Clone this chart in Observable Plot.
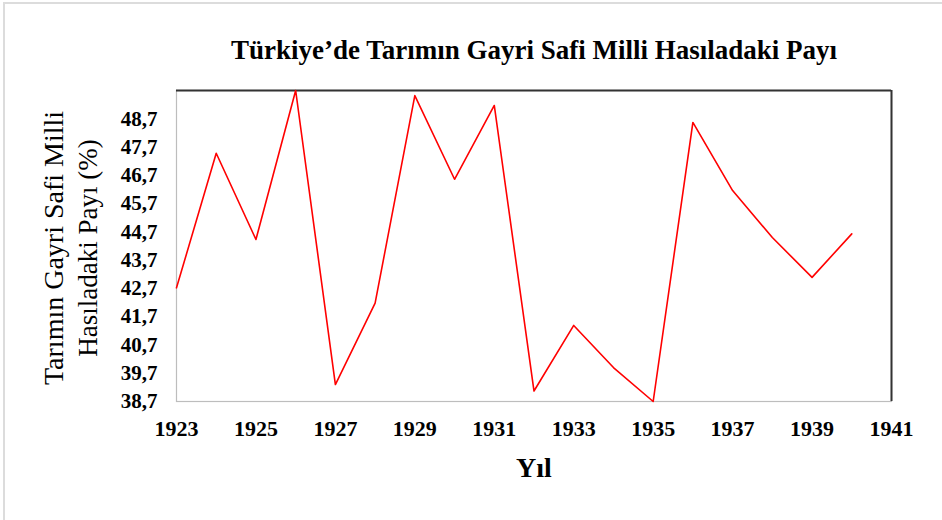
<!DOCTYPE html>
<html>
<head>
<meta charset="utf-8">
<script src="https://cdn.jsdelivr.net/npm/d3@7"></script>
<script src="https://cdn.jsdelivr.net/npm/@observablehq/plot@0.6"></script>
<style>
  html, body { margin: 0; padding: 0; background: #fff; }
  #wrap { position: relative; width: 942px; height: 520px; overflow: hidden; }
  #border { position: absolute; left: 3px; top: 2px; width: 960px; height: 540px;
            border-left: 2px solid #dcdcdc; border-top: 2px solid #dcdcdc; pointer-events: none; }
</style>
</head>
<body>
<div id="wrap"><div id="border"></div></div>
<script>
const title = "Türkiye’de Tarımın Gayri Safi Milli Hasıladaki Payı";
const yLabel1 = "Tarımın Gayri Safi Milli";
const yLabel2 = "Hasıladaki Payı (%)";
const xLabel = "Yıl";

const years  = [1923, 1924, 1925, 1926, 1927, 1928, 1929, 1930, 1931, 1932, 1933, 1934, 1935, 1936, 1937, 1938, 1939, 1940];
const values = [42.72, 47.48, 44.43, 49.7, 39.30, 42.18, 49.52, 46.56, 49.17, 39.07, 41.39, 39.9, 38.7, 48.57, 46.16, 44.50, 43.09, 44.63];

const xTicks = [1923, 1925, 1927, 1929, 1931, 1933, 1935, 1937, 1939, 1941];
const yTicks = [38.7, 39.7, 40.7, 41.7, 42.7, 43.7, 44.7, 45.7, 46.7, 47.7, 48.7];
const xDomain = [1923, 1941];
const yDomain = [38.7, 49.7];

const data = years.map((year, i) => ({year, value: values[i]}));
const fmtY = d => d.toFixed(1).replace(".", ",");
const serif = "'Liberation Serif', 'Times New Roman', serif";

const chart = Plot.plot({
  width: 942,
  height: 520,
  marginLeft: 176,
  marginRight: 51,
  marginTop: 90,
  marginBottom: 119,
  style: { fontFamily: serif, background: "transparent", color: "#000", overflow: "visible" },
  x: { domain: xDomain, label: null, axis: null },
  y: { domain: yDomain, label: null, axis: null },
  marks: [
    Plot.frame({ stroke: "#bdbdbd", strokeWidth: 1.2 }),
    Plot.ruleY([yDomain[1]], { stroke: "#333", strokeWidth: 2 }),
    Plot.ruleX([xDomain[1]], { stroke: "#333", strokeWidth: 2 }),
    Plot.line(data, { x: "year", y: "value", stroke: "#ff0000", strokeWidth: 1.6 }),
    Plot.axisX(xTicks, { tickSize: 0, tickPadding: 19, tickFormat: d => String(d), fontSize: 22, fontWeight: "bold", label: null }),
    Plot.axisY(yTicks, { tickSize: 0, tickPadding: 19, tickFormat: fmtY, fontSize: 21, fontWeight: "bold", label: null }),
    Plot.text([title], { frameAnchor: "top", dy: -40, lineAnchor: "middle", fontSize: 27, fontWeight: "bold", fill: "#000" }),
    Plot.text([xLabel], { frameAnchor: "bottom", dy: 67, lineAnchor: "middle", fontSize: 28, fontWeight: "bold", fill: "#000" }),
    Plot.text([yLabel1], { frameAnchor: "left", dx: -122, dy: 2, rotate: -90, textAnchor: "middle", lineAnchor: "middle", fontSize: 28, fill: "#000" }),
    Plot.text([yLabel2], { frameAnchor: "left", dx: -88, dy: 2, rotate: -90, textAnchor: "middle", lineAnchor: "middle", fontSize: 27, fill: "#000" })
  ]
});
chart.style.position = "absolute";
chart.style.left = "0px";
chart.style.top = "0px";
document.getElementById("wrap").appendChild(chart);
</script>
</body>
</html>
